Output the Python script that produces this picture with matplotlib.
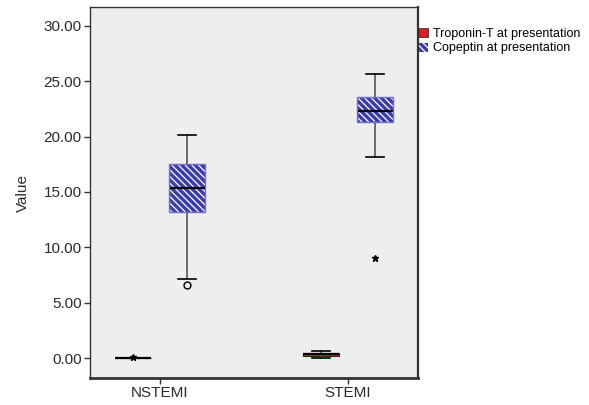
import matplotlib
matplotlib.use('Agg')
import matplotlib.pyplot as plt
import matplotlib.patches as mpatches

plt.rcParams['font.family'] = ['Liberation Sans', 'DejaVu Sans']
plt.rcParams['hatch.linewidth'] = 0.9

groups = ["NSTEMI", "STEMI"]
series = ["Troponin-T at presentation", "Copeptin at presentation"]

# five-number summaries: whislo, q1, med, q3, whishi
trop_stats = [(0.02, 0.02, 0.02, 0.02, 0.02), (0.0, 0.2, 0.35, 0.48, 0.6)]
cope_stats = [(7.1, 13.2, 15.4, 17.5, 20.1), (18.2, 21.3, 22.3, 23.55, 25.65)]
trop_out = [[0.1], []]
cope_out = [[6.6], [9.0]]
cope_out_marker = ['o', '*']

red = '#e41a1c'
blue = '#3c3cae'

fig = plt.figure(figsize=(5.89, 4.05), dpi=100)
ax = fig.add_axes([90/589, 27/405, 328/589, 371/405])
ax.set_facecolor('#eeeeee')

off = 0.144
w = 0.19

def mkstats(s, fl):
  return dict(whislo=s[0], q1=s[1], med=s[2], q3=s[3], whishi=s[4], fliers=fl)

pos = range(len(groups))
tb = ax.bxp([mkstats(s, f) for s, f in zip(trop_stats, trop_out)],
    positions=[p - off for p in pos], widths=w, patch_artist=True,
    capwidths=w*0.5, showfliers=True,
    boxprops=dict(facecolor=red, edgecolor='#4a2020', linewidth=0.8),
    whiskerprops=dict(color='#555555', linewidth=1.2),
    capprops=dict(color='black', linewidth=1.2),
    medianprops=dict(color='black', linewidth=1.6),
    flierprops=dict(marker='*', markersize=5, markerfacecolor='black', markeredgecolor='black'))

cb = ax.bxp([mkstats(s, []) for s in cope_stats],
    positions=[p + off for p in pos], widths=w, patch_artist=True,
    capwidths=w*0.5, showfliers=False,
    boxprops=dict(facecolor=blue, edgecolor='white', linewidth=0.0, hatch='\\\\\\\\\\'),
    whiskerprops=dict(color='#555555', linewidth=1.2),
    capprops=dict(color='black', linewidth=1.2),
    medianprops=dict(color='black', linewidth=1.6))
for b in cb['boxes']:
  ax.add_patch(mpatches.PathPatch(b.get_path(), fill=False, edgecolor='#7070c8', linewidth=1.0, zorder=b.get_zorder()+0.1))

for p, vals, m in zip(pos, cope_out, cope_out_marker):
  for v in vals:
    if m == 'o':
      ax.plot(p + off, v, 'o', markersize=5, markerfacecolor='none', markeredgecolor='black', markeredgewidth=1.0)
    else:
      ax.plot(p + off, v, '*', markersize=5, color='black')

ax.set_xlim(-0.372, 1.372)
ax.set_ylim(-1.8, 31.7)
ax.set_xticks(list(pos))
ax.set_xticklabels(groups, fontsize=11, color='#2a2a2a')
ax.set_yticks([0, 5, 10, 15, 20, 25, 30])
ax.set_yticklabels(["%.2f" % v for v in [0, 5, 10, 15, 20, 25, 30]], fontsize=11, color='#2a2a2a')
ax.tick_params(axis='both', direction='out', length=4, width=1, color='#333333', pad=2)
ax.set_ylabel("Value", fontsize=11, color='#2a2a2a', labelpad=10)

for s in ['top', 'right', 'left']:
  ax.spines[s].set_color('#333333')
  ax.spines[s].set_linewidth(1.0)
ax.spines['bottom'].set_color('#333333')
ax.spines['bottom'].set_linewidth(2.0)
ax.spines['right'].set_linewidth(1.6)

handles = [mpatches.Patch(facecolor=red, edgecolor='#333333', linewidth=0.6),
           mpatches.Patch(facecolor=blue, edgecolor='white', hatch='\\\\\\\\\\', linewidth=0.0)]
fig.legend(handles, series, loc='upper left', bbox_to_anchor=(419/589, 1 - 28/405),
    frameon=False, fontsize=9, handlelength=0.75, handleheight=0.75,
    handletextpad=0.4, labelspacing=0.2, borderaxespad=0, borderpad=0)

fig.savefig("out.png", dpi=100)
